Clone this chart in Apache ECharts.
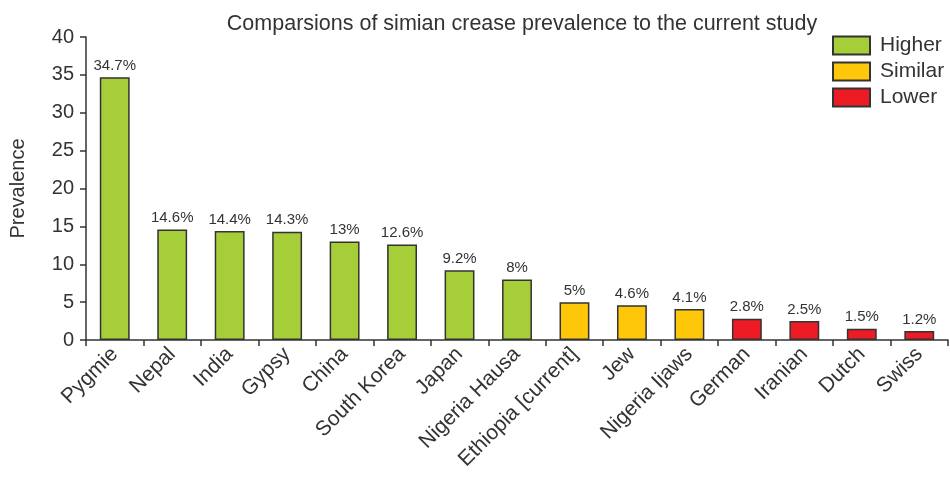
<!DOCTYPE html>
<html><head><meta charset="utf-8">
<script src="https://cdn.jsdelivr.net/npm/echarts@6/dist/echarts.min.js"></script>
<style>html,body{margin:0;padding:0;background:#fff}#c{width:950px;height:478px}</style>
</head><body><div id="c"></div>
<script>
const categories = ["Pygmie","Nepal","India","Gypsy","China","South Korea","Japan","Nigeria Hausa","Ethiopia [current]","Jew","Nigeria Ijaws","German","Iranian","Dutch","Swiss"];
const values = [34.7,14.6,14.4,14.3,13,12.6,9.2,8,5,4.6,4.1,2.8,2.5,1.5,1.2];
const groups = ["Higher","Higher","Higher","Higher","Higher","Higher","Higher","Higher","Similar","Similar","Similar","Lower","Lower","Lower","Lower"];
const groupNames = ["Higher","Similar","Lower"];
const groupColors = ["#a6ce39","#ffc709","#ed1c24"];
const yTicks = [0,5,10,15,20,25,30,35,40];

const font = "Liberation Sans, Arial, sans-serif";
const series = groupNames.map((g, gi) => ({
  name: g, type: 'bar', stack: 'all', barWidth: '52%',
  data: values.map((v, i) => groups[i] === g ? v : null),
  itemStyle: { color: groupColors[gi], borderColor: '#333', borderWidth: 1.5 },
  label: { show: true, position: 'top', formatter: p => p.value + '%', color: '#333', fontSize: 15, fontFamily: font, distance: 4 }
}));

const chart = echarts.init(document.getElementById('c'));
chart.setOption({
  animation: false,
  title: { text: 'Comparsions of simian crease prevalence to the current study', left: 517, top: 8, textAlign: 'center',
    textStyle: { fontSize: 21.5, fontWeight: 'normal', color: '#333', fontFamily: font } },
  legend: { orient: 'vertical', left: 827, top: 30, itemWidth: 37, itemHeight: 18, itemGap: 5, icon: 'rect',
    textStyle: { fontSize: 21, color: '#333', fontFamily: font, padding: [0, 0, 0, 5] }, data: groupNames },
  grid: { left: 85, right: 2, top: 37, bottom: 138, containLabel: false },
  xAxis: { type: 'category', data: categories,
    axisLine: { lineStyle: { color: '#333', width: 1.5 } },
    axisTick: { show: true, length: 6, lineStyle: { color: '#333', width: 1.5 } },
    axisLabel: { rotate: 45, fontSize: 21, color: '#333', fontFamily: font, interval: 0, margin: 11 } },
  yAxis: { type: 'value', min: 0, max: 40, interval: 5, name: 'Prevalence', nameLocation: 'middle', nameGap: 58,
    nameTextStyle: { fontSize: 20, color: '#333', fontFamily: font },
    splitLine: { show: false },
    axisLine: { show: true, lineStyle: { color: '#333', width: 1.5 } },
    axisTick: { show: true, length: 6, lineStyle: { color: '#333', width: 1.5 } },
    axisLabel: { fontSize: 20, color: '#333', fontFamily: font, margin: 12,
      formatter: v => yTicks.includes(v) ? String(v) : '' } },
  series: series
});
</script></body></html>
